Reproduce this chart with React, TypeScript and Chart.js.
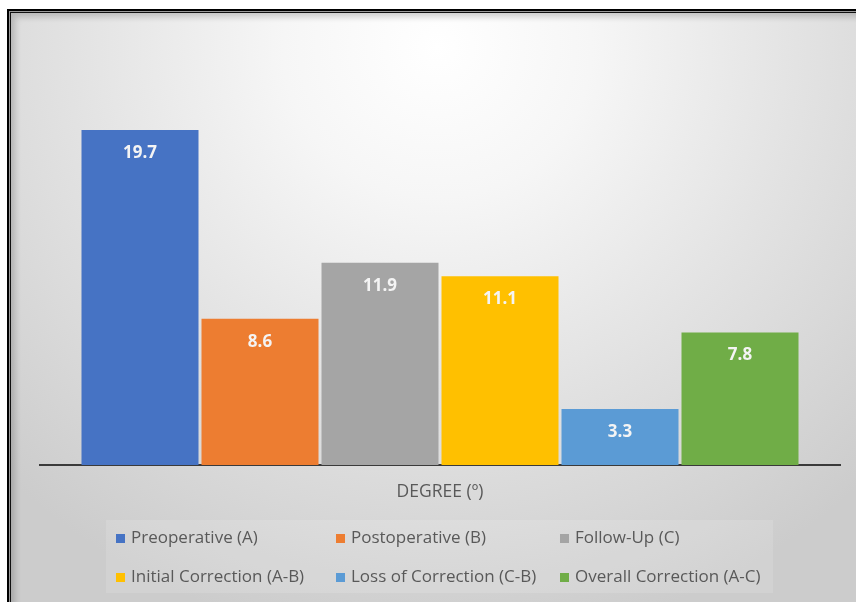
import React, { useEffect, useRef } from "react";
import { Chart, registerables } from "chart.js";

Chart.register(...registerables);

const categories = ["DEGREE (º)"];
const seriesNames = [
  "Preoperative (A)",
  "Postoperative (B)",
  "Follow-Up (C)",
  "Initial Correction (A-B)",
  "Loss of Correction (C-B)",
  "Overall Correction (A-C)",
];
const seriesValues = [19.7, 8.6, 11.9, 11.1, 3.3, 7.8];
const seriesColors = ["#4673C4", "#ED7D31", "#A5A5A5", "#FFC000", "#5B9BD5", "#70AD47"];

const FONT = "'Open Sans', 'DejaVu Sans', sans-serif";

const valueLabelPlugin = {
  id: "valueLabels",
  afterDatasetsDraw(chart: any) {
    const ctx = chart.ctx;
    ctx.save();
    ctx.font = `bold 17px ${FONT}`;
    ctx.fillStyle = "#f4f4f4";
    ctx.textAlign = "center";
    ctx.textBaseline = "middle";
    chart.data.datasets.forEach((ds: any, i: number) => {
      const meta = chart.getDatasetMeta(i);
      meta.data.forEach((bar: any, j: number) => {
        const v = ds.data[j];
        ctx.fillText(String(v.toFixed(1)), bar.x, bar.y + 23);
      });
    });
    ctx.restore();
  },
};

const legendPlugin = {
  id: "customLegend",
  afterDraw(chart: any) {
    const ctx = chart.ctx;
    ctx.save();
    ctx.fillStyle = "rgba(255,255,255,0.13)";
    ctx.fillRect(106, 520, 667, 73);
    const cols = [116, 336, 560];
    const rows = [538, 577];
    ctx.font = `17px ${FONT}`;
    ctx.textBaseline = "middle";
    ctx.textAlign = "left";
    chart.data.datasets.forEach((ds: any, i: number) => {
      const cx = cols[i % 3];
      const cy = rows[Math.floor(i / 3)];
      ctx.fillStyle = ds.backgroundColor;
      ctx.fillRect(cx, cy - 4, 9, 9);
      ctx.fillStyle = "#595959";
      ctx.fillText(ds.label, cx + 15, cy);
    });
    ctx.restore();
  },
};

export default function App() {
  const canvasRef = useRef<HTMLCanvasElement | null>(null);

  useEffect(() => {
    if (!canvasRef.current) return;
    const chart = new Chart(canvasRef.current, {
      type: "bar",
      data: {
        labels: categories,
        datasets: seriesNames.map((name, i) => ({
          label: name,
          data: [seriesValues[i]],
          backgroundColor: seriesColors[i],
          borderWidth: 0,
          categoryPercentage: 0.9,
          barPercentage: 0.975,
        })),
      },
      options: {
        responsive: false,
        animation: false,
        layout: { padding: { left: 40, right: 16, top: 40, bottom: 0 } },
        plugins: {
          legend: { display: false },
          tooltip: { enabled: false },
        },
        scales: {
          x: {
            grid: { display: false, drawTicks: false },
            border: { display: true, color: "#3a3a3a", width: 2 },
            ticks: { color: "#595959", font: { family: FONT, size: 17.5 }, padding: 17 },
            afterFit: (scale: any) => {
              scale.height = 137;
            },
          },
          y: {
            display: false,
            min: 0,
            max: 25,
          },
        },
      },
      plugins: [valueLabelPlugin, legendPlugin],
    });
    return () => chart.destroy();
  }, []);

  return (
    <div
      style={{
        position: "fixed",
        left: 0,
        top: 0,
        width: 856,
        height: 602,
        background: "#ffffff",
        overflow: "hidden",
      }}
    >
      <div
        style={{
          position: "absolute",
          left: 7,
          top: 9,
          right: -10,
          bottom: -10,
          borderTop: "2px solid #000",
          borderLeft: "2px solid #000",
          background:
            "radial-gradient(ellipse 72% 100% at 50% 6%, #ffffff 0%, #f6f6f6 25%, #e2e2e2 60%, #cccccc 100%)",
          boxShadow: "inset 1px 1px 0 #9a9a9a, inset 2px 2px 0 #111, inset 6px 6px 6px rgba(0,0,0,0.18)",
        }}
      />
      <canvas
        ref={canvasRef}
        width={856}
        height={602}
        style={{ position: "absolute", left: 0, top: 0, display: "block" }}
      />
    </div>
  );
}
